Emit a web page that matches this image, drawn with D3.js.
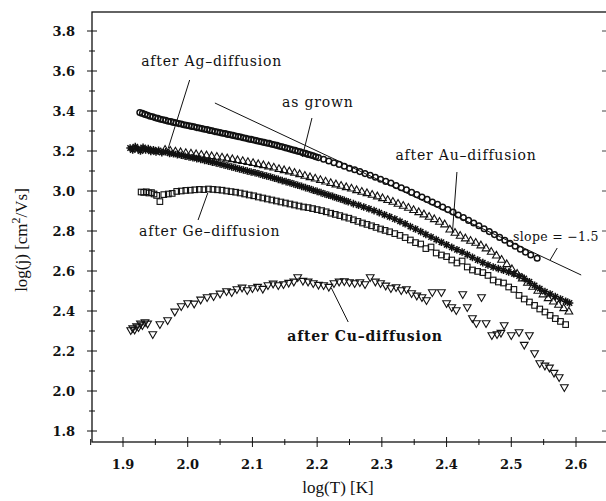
<!DOCTYPE html>
<html>
<head>
<meta charset="utf-8">
<script src="https://cdn.jsdelivr.net/npm/d3@7"></script>
<style>
    body { margin: 0; background: #fff; }
    svg { display: block; }
    text { font-family: "DejaVu Serif", serif; fill: #111; }
</style>
</head>
<body>
<div id="chart"></div>
<script>
// data, [log(T), log(mobility)]
const asGrown = [
    [1.926, 3.392], [1.930, 3.388], [1.934, 3.383], [1.938, 3.379], [1.942, 3.374],
    [1.946, 3.371], [1.950, 3.366], [1.954, 3.363], [1.958, 3.359], [1.962, 3.356],
    [1.966, 3.353], [1.970, 3.349], [1.974, 3.347], [1.978, 3.343], [1.982, 3.341],
    [1.986, 3.337], [1.990, 3.335], [1.994, 3.331], [1.998, 3.329], [2.002, 3.326],
    [2.006, 3.323], [2.010, 3.321], [2.014, 3.317], [2.018, 3.315], [2.022, 3.312],
    [2.026, 3.309], [2.030, 3.307], [2.034, 3.303], [2.038, 3.301], [2.042, 3.297],
    [2.046, 3.295], [2.050, 3.292], [2.054, 3.289], [2.058, 3.287], [2.062, 3.283],
    [2.066, 3.281], [2.070, 3.278], [2.074, 3.275], [2.078, 3.272], [2.082, 3.270],
    [2.086, 3.266], [2.090, 3.264], [2.094, 3.260], [2.098, 3.258], [2.102, 3.255],
    [2.106, 3.252], [2.110, 3.249], [2.114, 3.246], [2.118, 3.243], [2.122, 3.240],
    [2.126, 3.238], [2.130, 3.234], [2.134, 3.231], [2.138, 3.228], [2.142, 3.224],
    [2.146, 3.221], [2.150, 3.217], [2.154, 3.214], [2.158, 3.210], [2.162, 3.206],
    [2.166, 3.203], [2.170, 3.199], [2.174, 3.196], [2.178, 3.191], [2.182, 3.188],
    [2.186, 3.183], [2.190, 3.180], [2.194, 3.176], [2.198, 3.171], [2.202, 3.167],
    [2.210, 3.159], [2.218, 3.150], [2.226, 3.141], [2.234, 3.133], [2.242, 3.124],
    [2.250, 3.114], [2.258, 3.106], [2.266, 3.097], [2.274, 3.087], [2.282, 3.079],
    [2.290, 3.069], [2.298, 3.059], [2.306, 3.048], [2.314, 3.040], [2.322, 3.027],
    [2.330, 3.016], [2.338, 3.006], [2.346, 2.993], [2.354, 2.982], [2.362, 2.970],
    [2.370, 2.958], [2.378, 2.945], [2.386, 2.934], [2.394, 2.920], [2.402, 2.907],
    [2.410, 2.895], [2.418, 2.880], [2.426, 2.867], [2.434, 2.853], [2.442, 2.840],
    [2.450, 2.826], [2.458, 2.811], [2.466, 2.797], [2.474, 2.782], [2.482, 2.768],
    [2.490, 2.754], [2.498, 2.738], [2.506, 2.724], [2.514, 2.709], [2.522, 2.694],
    [2.530, 2.680], [2.540, 2.664]
];

const agDiff = [
    [1.911, 3.215], [1.915, 3.205], [1.919, 3.222], [1.923, 3.210], [1.927, 3.200],
    [1.931, 3.218], [1.935, 3.205], [1.939, 3.212], [1.943, 3.198], [1.947, 3.206],
    [1.951, 3.195], [1.955, 3.203], [1.960, 3.192], [1.966, 3.196], [1.972, 3.188],
    [1.978, 3.186], [1.984, 3.182], [1.990, 3.179], [1.996, 3.174], [2.002, 3.170],
    [2.008, 3.166], [2.014, 3.162], [2.020, 3.158], [2.026, 3.153], [2.032, 3.149],
    [2.038, 3.144], [2.044, 3.140], [2.050, 3.135], [2.056, 3.130], [2.062, 3.125],
    [2.068, 3.120], [2.074, 3.115], [2.080, 3.110], [2.086, 3.105], [2.092, 3.100],
    [2.098, 3.095], [2.104, 3.091], [2.110, 3.086], [2.116, 3.080], [2.122, 3.075],
    [2.128, 3.070], [2.134, 3.064], [2.140, 3.058], [2.146, 3.052], [2.152, 3.047],
    [2.158, 3.041], [2.164, 3.035], [2.170, 3.029], [2.176, 3.023], [2.182, 3.017],
    [2.188, 3.011], [2.194, 3.004], [2.200, 2.998], [2.206, 2.992], [2.212, 2.985],
    [2.218, 2.979], [2.224, 2.973], [2.230, 2.966], [2.236, 2.960], [2.242, 2.953],
    [2.248, 2.946], [2.256, 2.937], [2.264, 2.929], [2.272, 2.920], [2.280, 2.911],
    [2.288, 2.902], [2.296, 2.892], [2.304, 2.881], [2.312, 2.871], [2.320, 2.860],
    [2.328, 2.848], [2.336, 2.836], [2.344, 2.822], [2.352, 2.810], [2.360, 2.797],
    [2.368, 2.783], [2.376, 2.770], [2.384, 2.757], [2.392, 2.744], [2.400, 2.731],
    [2.408, 2.718], [2.416, 2.706], [2.424, 2.695], [2.432, 2.682], [2.440, 2.668],
    [2.448, 2.655], [2.456, 2.642], [2.464, 2.630], [2.472, 2.620], [2.480, 2.612],
    [2.488, 2.604], [2.496, 2.595], [2.504, 2.586], [2.512, 2.575], [2.520, 2.563],
    [2.528, 2.546], [2.536, 2.528], [2.544, 2.512], [2.552, 2.497], [2.560, 2.485],
    [2.568, 2.472], [2.576, 2.460], [2.584, 2.449], [2.590, 2.440]
];

const auDiff = [
    [1.965, 3.205], [1.973, 3.200], [1.981, 3.196], [1.989, 3.193], [1.997, 3.189],
    [2.005, 3.186], [2.013, 3.183], [2.021, 3.180], [2.029, 3.177], [2.037, 3.173],
    [2.045, 3.170], [2.053, 3.166], [2.061, 3.162], [2.069, 3.158], [2.077, 3.153],
    [2.085, 3.149], [2.093, 3.144], [2.101, 3.139], [2.109, 3.133], [2.117, 3.128],
    [2.125, 3.122], [2.133, 3.116], [2.141, 3.109], [2.149, 3.103], [2.157, 3.097],
    [2.165, 3.090], [2.173, 3.083], [2.181, 3.075], [2.189, 3.068], [2.197, 3.061],
    [2.205, 3.054], [2.213, 3.046], [2.221, 3.039], [2.229, 3.032], [2.237, 3.025],
    [2.245, 3.018], [2.253, 3.011], [2.261, 3.003], [2.269, 2.995], [2.277, 2.988],
    [2.285, 2.980], [2.293, 2.972], [2.301, 2.963], [2.309, 2.954], [2.317, 2.945],
    [2.325, 2.935], [2.333, 2.925], [2.341, 2.915], [2.349, 2.904], [2.357, 2.893],
    [2.365, 2.882], [2.373, 2.870], [2.381, 2.858], [2.389, 2.845], [2.397, 2.832],
    [2.405, 2.806], [2.413, 2.790], [2.421, 2.775], [2.429, 2.762], [2.437, 2.750],
    [2.445, 2.740], [2.453, 2.727], [2.461, 2.712], [2.469, 2.695], [2.477, 2.676],
    [2.485, 2.655], [2.493, 2.633], [2.501, 2.608], [2.509, 2.585], [2.517, 2.562],
    [2.525, 2.540], [2.533, 2.520], [2.541, 2.500], [2.549, 2.482], [2.557, 2.463],
    [2.565, 2.446], [2.573, 2.430], [2.581, 2.413], [2.589, 2.396]
];

const geDiff = [
    [1.928, 2.995], [1.932, 2.993], [1.936, 2.996], [1.940, 2.990], [1.944, 2.992],
    [1.948, 2.985], [1.952, 2.978], [1.957, 2.947], [1.963, 2.982], [1.970, 2.985],
    [1.976, 2.988], [1.983, 2.998], [1.990, 3.000], [1.997, 3.003], [2.004, 3.004],
    [2.011, 3.006], [2.018, 3.008], [2.025, 3.007], [2.032, 3.010], [2.039, 3.008],
    [2.046, 3.006], [2.053, 3.004], [2.060, 3.000], [2.067, 2.997], [2.074, 2.994],
    [2.081, 2.990], [2.088, 2.985], [2.095, 2.980], [2.102, 2.976], [2.109, 2.970],
    [2.116, 2.965], [2.123, 2.960], [2.130, 2.955], [2.137, 2.950], [2.144, 2.945],
    [2.151, 2.940], [2.158, 2.935], [2.165, 2.930], [2.172, 2.925], [2.179, 2.920],
    [2.186, 2.917], [2.193, 2.912], [2.200, 2.907], [2.207, 2.902], [2.214, 2.896],
    [2.221, 2.889], [2.228, 2.883], [2.235, 2.877], [2.242, 2.870], [2.249, 2.864],
    [2.256, 2.856], [2.263, 2.848], [2.270, 2.840], [2.277, 2.833], [2.284, 2.826],
    [2.291, 2.818], [2.298, 2.810], [2.305, 2.803], [2.312, 2.796], [2.320, 2.787],
    [2.328, 2.778], [2.336, 2.767], [2.344, 2.755], [2.352, 2.742], [2.360, 2.735],
    [2.368, 2.712], [2.376, 2.720], [2.384, 2.690], [2.392, 2.680], [2.400, 2.672],
    [2.408, 2.655], [2.416, 2.640], [2.424, 2.650], [2.432, 2.620], [2.440, 2.605],
    [2.448, 2.598], [2.456, 2.592], [2.464, 2.578], [2.472, 2.555], [2.480, 2.545],
    [2.488, 2.540], [2.496, 2.520], [2.504, 2.508], [2.512, 2.478], [2.520, 2.460],
    [2.528, 2.445], [2.536, 2.428], [2.544, 2.410], [2.552, 2.395], [2.560, 2.378],
    [2.568, 2.362], [2.576, 2.348], [2.584, 2.332]
];

const cuDiff = [
    [1.912, 2.305], [1.915, 2.315], [1.918, 2.308], [1.921, 2.325], [1.924, 2.320],
    [1.927, 2.338], [1.930, 2.330], [1.934, 2.345], [1.938, 2.338], [1.946, 2.285],
    [1.957, 2.335], [1.969, 2.355], [1.980, 2.398], [1.990, 2.425], [2.000, 2.440],
    [2.010, 2.438], [2.020, 2.458], [2.030, 2.470], [2.040, 2.475], [2.050, 2.488],
    [2.060, 2.500], [2.068, 2.495], [2.076, 2.510], [2.084, 2.518], [2.092, 2.505],
    [2.100, 2.515], [2.108, 2.522], [2.116, 2.512], [2.124, 2.530], [2.132, 2.538],
    [2.140, 2.530], [2.148, 2.535], [2.156, 2.542], [2.164, 2.548], [2.170, 2.570],
    [2.178, 2.552], [2.186, 2.548], [2.194, 2.540], [2.202, 2.532], [2.210, 2.530],
    [2.218, 2.522], [2.226, 2.540], [2.234, 2.548], [2.242, 2.550], [2.250, 2.545],
    [2.258, 2.540], [2.266, 2.545], [2.274, 2.535], [2.282, 2.570], [2.290, 2.548],
    [2.298, 2.540], [2.306, 2.528], [2.314, 2.515], [2.322, 2.520], [2.330, 2.505],
    [2.338, 2.510], [2.346, 2.490], [2.354, 2.478], [2.362, 2.470], [2.369, 2.455],
    [2.378, 2.495], [2.392, 2.495], [2.400, 2.440], [2.408, 2.420], [2.415, 2.405],
    [2.425, 2.485], [2.432, 2.420], [2.440, 2.365], [2.446, 2.340], [2.454, 2.470],
    [2.461, 2.340], [2.470, 2.280], [2.478, 2.285], [2.484, 2.292], [2.489, 2.330],
    [2.500, 2.280], [2.512, 2.295], [2.520, 2.232], [2.528, 2.280], [2.536, 2.190],
    [2.544, 2.140], [2.552, 2.128], [2.559, 2.118], [2.566, 2.092], [2.574, 2.070],
    [2.582, 2.020]
];

// straight reference line, slope -1.5
const slopeLine = [[2.042, 3.44], [2.608, 2.58]];

// ticks
const xTicks = [1.9, 2.0, 2.1, 2.2, 2.3, 2.4, 2.5, 2.6];
const xMinor = [1.85, 1.95, 2.05, 2.15, 2.25, 2.35, 2.45, 2.55];
const yTicks = [1.8, 2.0, 2.2, 2.4, 2.6, 2.8, 3.0, 3.2, 3.4, 3.6, 3.8];
const yMinor = [1.9, 2.1, 2.3, 2.5, 2.7, 2.9, 3.1, 3.3, 3.5, 3.7];

// labels: text position [x, y] and leader line [x1, y1, x2, y2], in data units
const labels = [
    {text: "after Ag\u2013diffusion", at: [2.037, 3.625], lead: [2.003, 3.555, 1.970, 3.215]},
    {text: "as grown", at: [2.201, 3.42], lead: [2.192, 3.365, 2.177, 3.170]},
    {text: "after Au\u2013diffusion", at: [2.430, 3.155], lead: [2.416, 3.095, 2.409, 2.790]},
    {text: "slope = \u22121.5", at: [2.569, 2.75], lead: [2.571, 2.715, 2.560, 2.655], small: true},
    {text: "after Ge\u2013diffusion", at: [2.034, 2.775], lead: [2.016, 2.855, 2.031, 2.990]},
    {text: "after Cu\u2013diffusion", at: [2.274, 2.25], lead: [2.248, 2.345, 2.222, 2.515], bold: true}
];

const width = 606, height = 501;
const frame = {left: 92, right: 607, top: 12, bottom: 442};

let svg = d3.select("#chart").append("svg")
    .attr("width", width)
    .attr("height", height);

let x = d3.scaleLinear()
    .domain([1.9, 2.6])
    .range([123, 576]);
let y = d3.scaleLinear()
    .domain([1.8, 3.8])
    .range([431, 31]);

//frame
svg.append("rect")
    .attr("x", frame.left)
    .attr("y", frame.top)
    .attr("width", frame.right - frame.left)
    .attr("height", frame.bottom - frame.top)
    .style("fill", "none")
    .style("stroke", "#111")
    .style("stroke-width", 1.3);

//left axis ticks (cross the axis line)
svg.selectAll(".ytick").data(yTicks).enter()
    .append("line")
    .attr("x1", frame.left - 5).attr("x2", frame.left + 5)
    .attr("y1", d => y(d)).attr("y2", d => y(d))
    .style("stroke", "#111").style("stroke-width", 1);
svg.selectAll(".yminor").data(yMinor).enter()
    .append("line")
    .attr("x1", frame.left - 3).attr("x2", frame.left + 3)
    .attr("y1", d => y(d)).attr("y2", d => y(d))
    .style("stroke", "#111").style("stroke-width", 1);
//right side ticks
svg.selectAll(".ytickr").data(yTicks).enter()
    .append("line")
    .attr("x1", frame.right - 5).attr("x2", frame.right)
    .attr("y1", d => y(d)).attr("y2", d => y(d))
    .style("stroke", "#444").style("stroke-width", 1);

svg.selectAll(".ylabel").data(yTicks).enter()
    .append("text")
    .attr("x", 75)
    .attr("y", d => y(d))
    .attr("dy", "0.36em")
    .style("text-anchor", "end")
    .style("font-size", "13px")
    .style("font-weight", "bold")
    .text(d => d.toFixed(1));

//bottom axis ticks
svg.selectAll(".xtick").data(xTicks).enter()
    .append("line")
    .attr("x1", d => x(d)).attr("x2", d => x(d))
    .attr("y1", frame.bottom - 5).attr("y2", frame.bottom + 5)
    .style("stroke", "#111").style("stroke-width", 1);
svg.selectAll(".xminor").data(xMinor).enter()
    .append("line")
    .attr("x1", d => x(d)).attr("x2", d => x(d))
    .attr("y1", frame.bottom - 3).attr("y2", frame.bottom + 3)
    .style("stroke", "#111").style("stroke-width", 1);

svg.selectAll(".xlabel").data(xTicks).enter()
    .append("text")
    .attr("x", d => x(d))
    .attr("y", 464)
    .attr("dy", "0.36em")
    .style("text-anchor", "middle")
    .style("font-size", "13px")
    .style("font-weight", "bold")
    .text(d => d.toFixed(1));

//axis titles
svg.append("text")
    .attr("x", 338)
    .attr("y", 493)
    .style("text-anchor", "middle")
    .style("font-family", "'Liberation Serif', serif")
    .style("font-size", "17px")
    .text("log(T) [K]");

let yTitle = svg.append("text")
    .attr("transform", "translate(27,240) rotate(-90)")
    .style("text-anchor", "middle")
    .style("font-family", "'Liberation Serif', serif")
    .style("font-size", "17px");
yTitle.append("tspan").text("log(j) [cm");
yTitle.append("tspan").attr("dy", -7).style("font-size", "12px").text("2");
yTitle.append("tspan").attr("dy", 7).text("/Vs]");

//slope line
svg.append("line")
    .attr("x1", x(slopeLine[0][0])).attr("y1", y(slopeLine[0][1]))
    .attr("x2", x(slopeLine[1][0])).attr("y2", y(slopeLine[1][1]))
    .style("stroke", "#111").style("stroke-width", 1);

//markers
let marks = svg.append("g")
    .style("fill", "none")
    .style("stroke", "#111")
    .style("stroke-width", 1.1);

function star(s) {
    let p = d3.path();
    for (let k = 0; k < 4; k++) {
        let a = k * Math.PI / 4;
        p.moveTo(-s * Math.cos(a), -s * Math.sin(a));
        p.lineTo(s * Math.cos(a), s * Math.sin(a));
    }
    return p.toString();
}

marks.selectAll(".ge").data(geDiff).enter()
    .append("rect")
    .attr("x", d => x(d[0]) - 2.8)
    .attr("y", d => y(d[1]) - 2.8)
    .attr("width", 5.6)
    .attr("height", 5.6);

marks.selectAll(".cu").data(cuDiff).enter()
    .append("path")
    .attr("d", d3.symbol(d3.symbolTriangle, 26))
    .attr("transform", d => "translate(" + x(d[0]) + "," + y(d[1]) + ") rotate(180)");

marks.selectAll(".au").data(auDiff).enter()
    .append("path")
    .attr("d", d3.symbol(d3.symbolTriangle, 26))
    .attr("transform", d => "translate(" + x(d[0]) + "," + y(d[1]) + ")");

marks.selectAll(".ag").data(agDiff).enter()
    .append("path")
    .attr("d", star(3.8))
    .attr("transform", d => "translate(" + x(d[0]) + "," + y(d[1]) + ")")
    .style("stroke-width", 1.5);

marks.selectAll(".grown").data(asGrown).enter()
    .append("circle")
    .attr("cx", d => x(d[0]))
    .attr("cy", d => y(d[1]))
    .attr("r", 2.8)
    .style("stroke-width", 1.5);

//annotation labels and leader lines
svg.selectAll(".leader").data(labels).enter()
    .append("line")
    .attr("x1", d => x(d.lead[0])).attr("y1", d => y(d.lead[1]))
    .attr("x2", d => x(d.lead[2])).attr("y2", d => y(d.lead[3]))
    .style("stroke", "#111").style("stroke-width", 1);

svg.selectAll(".note").data(labels).enter()
    .append("text")
    .attr("x", d => x(d.at[0]))
    .attr("y", d => y(d.at[1]))
    .style("text-anchor", "middle")
    .style("font-size", d => d.small ? "12.5px" : "14px")
    .style("letter-spacing", d => d.small ? "0.3px" : "0.8px")
    .style("font-weight", d => d.bold ? "bold" : "normal")
    .text(d => d.text);
</script>
</body>
</html>
